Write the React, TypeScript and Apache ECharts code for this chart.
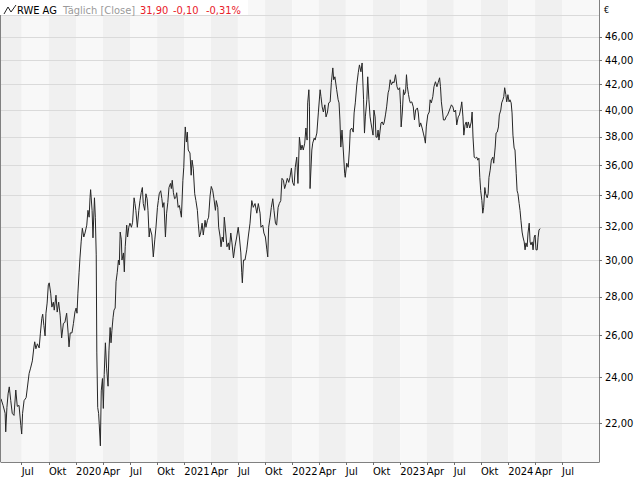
import React, { useEffect, useRef } from "react";
import * as echarts from "echarts";

// ---- data (RWE AG, daily close) ----
const startDate = "2019-04-22"; // first visible session (left edge)
const endDate = "2024-11-03"; // right edge of the time axis
// session positions, in calendar days after startDate
const dayOffsets = [
  0, 7, 14, 16, 20, 24, 28, 33, 38, 44, 50, 55, 61, 67, 70, 73, 78, 85, 89, 95,
  100, 106, 111, 114, 118, 123, 129, 133, 138, 141, 145, 149, 152, 156, 160, 163, 168, 172, 177, 180,
  186, 190, 195, 200, 205, 211, 216, 222, 227, 230, 234, 240, 245, 250, 254, 257, 260, 264, 267, 271,
  275, 280, 284, 290, 294, 298, 301, 303, 308, 311, 316, 319, 322, 324, 327, 330, 332, 336, 339, 343,
  346, 349, 353, 357, 362, 365, 369, 372, 375, 379, 382, 386, 389, 393, 397, 400, 403, 407, 409, 414,
  417, 420, 425, 428, 432, 436, 441, 445, 450, 453, 456, 461, 466, 470, 474, 478, 481, 486, 490, 494,
  497, 501, 504, 510, 515, 520, 524, 529, 532, 535, 540, 544, 547, 551, 556, 560, 564, 568, 573, 576,
  579, 583, 587, 591, 594, 599, 603, 606, 610, 615, 618, 620, 623, 627, 630, 633, 639, 643, 646, 650,
  655, 659, 664, 667, 671, 675, 680, 684, 690, 693, 698, 702, 707, 711, 716, 720, 725, 728, 733, 736,
  741, 744, 748, 752, 755, 760, 764, 769, 772, 777, 781, 786, 791, 797, 802, 806, 811, 814, 816, 820,
  825, 831, 836, 842, 848, 853, 859, 865, 870, 876, 879, 885, 889, 894, 899, 902, 905, 910, 914, 919,
  923, 928, 932, 937, 941, 946, 950, 955, 959, 964, 968, 973, 977, 982, 986, 991, 995, 1000, 1004, 1009,
  1014, 1018, 1022, 1027, 1031, 1035, 1037, 1041, 1043, 1045, 1051, 1054, 1059, 1062, 1068, 1073, 1079, 1082, 1086, 1090,
  1095, 1099, 1104, 1108, 1113, 1117, 1122, 1125, 1129, 1135, 1140, 1143, 1146, 1149, 1153, 1158, 1162, 1164, 1169, 1174,
  1178, 1181, 1186, 1191, 1194, 1198, 1203, 1208, 1212, 1217, 1221, 1226, 1229, 1232, 1237, 1240, 1244, 1248, 1251, 1255,
  1258, 1261, 1265, 1268, 1272, 1275, 1278, 1282, 1285, 1289, 1293, 1296, 1300, 1304, 1309, 1312, 1316, 1320, 1325, 1329,
  1334, 1339, 1343, 1348, 1351, 1353, 1357, 1361, 1364, 1368, 1371, 1374, 1378, 1381, 1384, 1389, 1394, 1398, 1402, 1408,
  1411, 1415, 1419, 1424, 1428, 1432, 1435, 1438, 1443, 1448, 1451, 1455, 1460, 1464, 1469, 1474, 1478, 1483, 1486, 1489,
  1493, 1496, 1501, 1505, 1510, 1514, 1519, 1523, 1528, 1532, 1537, 1541, 1546, 1550, 1555, 1558, 1562, 1565, 1569, 1573,
  1576, 1580, 1585, 1590, 1593, 1596, 1600, 1604, 1609, 1612, 1616, 1619, 1622, 1626, 1629, 1632, 1636, 1639, 1644, 1647,
  1650, 1654, 1658, 1663, 1666, 1671, 1674, 1678, 1682, 1685, 1690, 1693, 1697, 1700, 1703, 1707, 1710, 1714, 1718, 1721,
  1725, 1728, 1731, 1735, 1738, 1742, 1745, 1748, 1752, 1755, 1758, 1762, 1765, 1769, 1772, 1775, 1779, 1782, 1786, 1789,
  1792, 1796, 1799, 1803, 1806, 1809, 1813, 1816, 1819, 1823,
];
const closes = [
  23.05, 22.76, 22.42, 21.64, 22.67, 23.27, 23.58, 22.97, 22.42, 22.33, 23.44, 22.72, 22.76, 21.91, 21.55, 22.42, 22.97, 23.10, 23.53, 24.19,
  24.44, 24.78, 25.40, 25.70, 25.36, 25.60, 25.40, 26.09, 26.88, 27.09, 26.51, 25.99, 27.14, 27.67, 28.65, 28.76, 28.20, 27.46, 27.72, 27.30,
  28.09, 27.20, 27.72, 27.04, 25.89, 26.62, 26.67, 27.14, 26.14, 25.45, 26.14, 26.14, 26.62, 27.20, 27.41, 27.14, 28.20, 29.32, 30.16, 31.10,
  31.92, 31.39, 31.63, 32.11, 33.03, 32.60, 33.83, 34.36, 33.03, 31.34, 33.83, 32.60, 30.34, 25.16, 22.67, 22.42, 21.99, 21.07, 23.40, 23.96,
  22.63, 24.15, 25.65, 24.44, 23.61, 25.26, 26.41, 25.65, 26.25, 26.93, 27.30, 27.41, 28.82, 29.32, 30.04, 29.76, 31.69, 31.22, 30.04, 30.45,
  29.37, 30.81, 32.11, 31.39, 31.98, 32.23, 31.98, 32.29, 33.83, 33.46, 33.03, 31.98, 33.03, 33.65, 34.16, 34.50, 33.46, 33.03, 34.09, 33.77,
  33.03, 31.39, 31.92, 31.51, 30.22, 31.22, 31.98, 33.22, 33.65, 34.09, 34.29, 33.77, 33.22, 33.52, 31.39, 32.85, 33.52, 34.50, 34.77, 34.43,
  34.98, 34.16, 33.77, 33.83, 34.16, 33.22, 33.34, 33.03, 32.60, 34.98, 35.86, 37.06, 38.73, 37.63, 38.35, 37.06, 36.85, 35.32, 36.35, 35.80,
  34.09, 33.65, 33.03, 32.23, 31.39, 31.63, 32.23, 31.51, 32.41, 31.98, 32.41, 32.60, 33.96, 34.57, 34.29, 33.77, 33.03, 33.65, 33.22, 31.98,
  31.39, 30.81, 31.39, 31.10, 32.60, 31.63, 30.81, 31.04, 30.63, 31.63, 31.04, 30.16, 30.81, 31.39, 31.98, 31.39, 30.45, 29.32, 28.76, 30.04,
  30.04, 30.63, 31.39, 32.23, 33.65, 33.22, 33.46, 32.85, 33.46, 32.85, 31.98, 32.11, 31.63, 31.39, 30.63, 30.22, 31.98, 32.60, 33.22, 33.77,
  33.03, 32.23, 32.11, 33.22, 33.46, 33.65, 35.11, 34.98, 34.43, 34.77, 35.11, 34.84, 35.18, 35.80, 34.84, 34.63, 35.86, 36.56, 34.77, 37.98,
  37.06, 37.41, 37.06, 37.55, 38.65, 37.77, 40.55, 41.58, 40.24, 34.43, 37.06, 37.55, 37.91, 37.77, 38.28, 39.78, 41.58, 41.03, 40.24, 39.85,
  40.40, 39.48, 39.85, 40.55, 40.63, 42.14, 43.35, 42.38, 42.62, 41.58, 40.79, 40.55, 39.25, 37.27, 38.50, 36.85, 35.45, 35.18, 36.14, 35.86,
  37.06, 38.50, 38.65, 38.35, 39.78, 40.55, 41.98, 42.95, 43.60, 43.03, 43.76, 40.79, 38.28, 39.48, 40.79, 42.62, 40.79, 39.48, 39.03, 38.50,
  38.13, 40.00, 39.48, 37.98, 37.98, 38.50, 37.77, 38.50, 39.03, 39.10, 38.88, 39.10, 39.63, 40.24, 41.34, 41.58, 42.38, 41.98, 42.22, 42.14,
  42.79, 41.82, 41.58, 41.74, 40.40, 38.73, 39.85, 41.58, 41.19, 41.42, 42.79, 41.82, 41.19, 40.79, 40.55, 40.63, 40.24, 39.25, 40.00, 40.16,
  39.78, 38.73, 39.03, 38.65, 38.28, 37.91, 37.55, 38.73, 39.63, 39.85, 40.79, 40.55, 41.03, 41.82, 42.22, 41.82, 42.14, 42.54, 41.82, 40.63,
  39.85, 39.25, 39.25, 39.48, 39.63, 39.85, 40.16, 40.40, 40.24, 39.85, 40.00, 38.88, 39.48, 39.63, 40.16, 40.63, 39.48, 38.13, 38.88, 39.10,
  38.65, 39.10, 38.65, 39.10, 39.85, 37.98, 36.56, 36.49, 36.56, 36.35, 36.49, 35.18, 34.29, 33.65, 32.85, 33.22, 34.50, 34.09, 33.83, 34.09,
  35.18, 35.66, 36.35, 36.56, 36.14, 37.27, 38.28, 38.35, 38.73, 39.63, 40.00, 40.55, 40.79, 41.03, 41.74, 41.19, 40.63, 41.19, 40.63, 40.79,
  40.55, 39.78, 38.13, 37.20, 37.06, 35.45, 34.29, 34.09, 33.46, 33.03, 32.41, 31.69, 31.39, 31.10, 30.63, 31.04, 30.81, 31.63, 32.23, 31.10,
  30.92, 31.10, 30.63, 31.39, 31.51, 30.63, 30.63, 31.34, 31.81, 31.90,
];

// axis values
const priceTicks = [22, 24, 26, 28, 30, 32, 34, 36, 38, 40, 42, 44, 46];
const unlabeledGridPrice = 48;
const priceRange = [20.43, 49.35];
const quarterTicks = [
  "2019-07-01", "2019-10-01", "2020-01-01", "2020-04-01", "2020-07-01", "2020-10-01",
  "2021-01-01", "2021-04-01", "2021-07-01", "2021-10-01", "2022-01-01", "2022-04-01",
  "2022-07-01", "2022-10-01", "2023-01-01", "2023-04-01", "2023-07-01", "2023-10-01",
  "2024-01-01", "2024-04-01", "2024-07-01",
];
const monthLabels: Record<number, string> = { 3: "Apr", 6: "Jul", 9: "Okt" };

// header texts
const instrumentName = "RWE AG";
const quoteMode = "Täglich [Close]";
const lastPrice = "31,90";
const changeAbs = "-0,10";
const changePct = "-0,31%";
const currency = "€";

const FONT = "'DejaVu Sans Condensed', 'Liberation Sans', Arial, sans-serif";
const DAY = 86400000;

export default function App() {
  const ref = useRef<HTMLDivElement>(null);

  useEffect(() => {
    if (!ref.current) return;
    const chart = echarts.init(ref.current, null, { renderer: "svg" });

    const base = Date.parse(startDate);
    const xMax = Date.parse(endDate);
    const seriesData = dayOffsets.map((d, i) => [base + d * DAY, Math.log(closes[i])]);

    const tickTimes = quarterTicks.map((s) => Date.parse(s));

    // quarter shading bands (Q2 / Q4 darker), last band stays light
    const bounds = [base, ...tickTimes, xMax];
    const bands: any[] = [];
    for (let i = 0; i < bounds.length - 1; i++) {
      const m = new Date(bounds[i]).getUTCMonth();
      const dark = (m >= 3 && m <= 5) || m >= 9;
      bands.push([
        { xAxis: bounds[i], itemStyle: { color: dark ? "#f0f0f0" : "#f8f8f8" } },
        { xAxis: bounds[i + 1] },
      ]);
    }

    const priceLn = priceTicks.map((p) => Math.log(p));

    chart.setOption({
      animation: false,
      backgroundColor: "#ffffff",
      textStyle: { fontFamily: FONT },
      grid: { left: 1, right: 41, top: 0, bottom: 18, containLabel: false },
      xAxis: {
        type: "value",
        min: base,
        max: xMax,
        z: 1.5,
        axisLine: { show: true, onZero: false, lineStyle: { color: "#808080", width: 1 } },
        axisTick: { show: true, length: 3, customValues: tickTimes, lineStyle: { color: "#707070" } },
        axisLabel: {
          customValues: tickTimes,
          align: "left",
          margin: 4,
          color: "#000000",
          fontSize: 11,
          fontFamily: FONT,
          formatter: (v: number) => {
            const d = new Date(v);
            const m = d.getUTCMonth();
            return m === 0 ? String(d.getUTCFullYear()) : monthLabels[m] || "";
          },
        },
        splitLine: { show: false },
      },
      yAxis: {
        type: "value",
        position: "right",
        min: Math.log(priceRange[0]),
        max: Math.log(priceRange[1]),
        z: 1.5,
        axisLine: { show: true, lineStyle: { color: "#808080", width: 1 } },
        axisTick: { show: true, length: 3, customValues: priceLn, lineStyle: { color: "#707070" } },
        axisLabel: {
          customValues: priceLn,
          margin: 6,
          color: "#000000",
          fontSize: 11,
          fontFamily: FONT,
          formatter: (v: number) => Math.exp(v).toFixed(2).replace(".", ","),
        },
        splitLine: { show: true, lineStyle: { color: "#dadada", width: 1 } },
      },
      series: [
        {
          type: "line",
          data: seriesData,
          showSymbol: false,
          symbol: "none",
          z: 2,
          lineStyle: { color: "#262626", width: 1 },
          markArea: { silent: true, z: 1, label: { show: false }, data: bands },
          markLine: {
            silent: true,
            z: 1.5,
            symbol: ["none", "none"],
            label: { show: false },
            lineStyle: { color: "#dadada", width: 1, type: "solid" },
            data: [{ yAxis: Math.log(unlabeledGridPrice) }],
          },
        },
      ],
      graphic: [
        { type: "line", z: 50, shape: { x1: 0.5, y1: 0, x2: 0.5, y2: 462 }, style: { stroke: "#808080", lineWidth: 1 } },
        { type: "rect", z: 60, shape: { x: 0, y: 0, width: 248, height: 15 }, style: { fill: "#ffffff" } },
        {
          type: "polyline",
          z: 61,
          shape: { points: [[4, 14], [8, 7], [11, 12], [16, 5]] },
          style: { stroke: "#222222", lineWidth: 1, fill: null },
        },
        { type: "text", z: 61, x: 17, y: 10, style: { text: instrumentName, fill: "#000000", font: `11px ${FONT}`, textVerticalAlign: "middle" } },
        { type: "text", z: 61, x: 63, y: 10, style: { text: quoteMode, fill: "#9a9a9a", font: `11px ${FONT}`, textVerticalAlign: "middle" } },
        { type: "text", z: 61, x: 140, y: 10, style: { text: lastPrice, fill: "#e8202a", font: `11px ${FONT}`, textVerticalAlign: "middle" } },
        { type: "text", z: 61, x: 173, y: 10, style: { text: changeAbs, fill: "#e8202a", font: `11px ${FONT}`, textVerticalAlign: "middle" } },
        { type: "text", z: 61, x: 206, y: 10, style: { text: changePct, fill: "#e8202a", font: `11px ${FONT}`, textVerticalAlign: "middle" } },
        { type: "text", z: 61, x: 604, y: 10, style: { text: currency, fill: "#000000", font: `9px ${FONT}`, textVerticalAlign: "middle" } },
      ],
    });

    return () => chart.dispose();
  }, []);

  return <div ref={ref} style={{ position: "absolute", left: 0, top: 0, width: 640, height: 480 }} />;
}
